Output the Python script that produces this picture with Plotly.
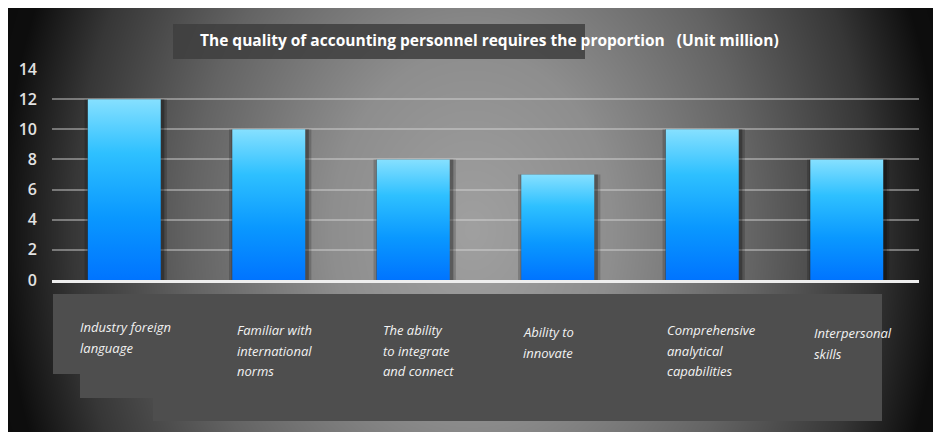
import base64, struct, zlib
import numpy as np
import plotly.graph_objects as go

# ---------------- data ----------------
CATEGORIES = [
    "Industry foreign<br>language",
    "Familiar with<br>international<br>norms",
    "The ability<br>to integrate<br>and connect",
    "Ability to<br>innovate",
    "Comprehensive<br>analytical<br>capabilities",
    "Interpersonal<br>skills",
]
VALUES = [12, 10, 8, 7, 10, 8]
Y_TICKS = [0, 2, 4, 6, 8, 10, 12, 14]
TITLE = "The quality of accounting personnel requires the proportion\u00a0\u00a0\u00a0(Unit million)"

# ---------------- layout constants (screen pixels; page has an 8px body margin) ----------------
W, H = 941, 432
OFF = 8
PL, PR, PT, PB = 52, 919, 69, 280          # plot area on screen
PW, PH = PR - PL, PB - PT
BAR_HALF = 0.2525
LABEL_DX = [-46, -34, -32, -37, -37, -35]
LABEL_Y0 = [327, 330, 330, 332, 330, 333]
LINE_PITCH = 20.5


def px(x):
    return (x - PL) / PW


def py(y):
    return (PB - y) / PH


def png_uri(arr):
    h, w, _ = arr.shape
    raw = b"".join(b"\x00" + arr[r].tobytes() for r in range(h))

    def chunk(t, d):
        c = struct.pack(">I", len(d)) + t + d
        return c + struct.pack(">I", zlib.crc32(t + d) & 0xFFFFFFFF)

    png = (b"\x89PNG\r\n\x1a\n"
           + chunk(b"IHDR", struct.pack(">IIBBBBB", w, h, 8, 2, 0, 0, 0))
           + chunk(b"IDAT", zlib.compress(raw, 9))
           + chunk(b"IEND", b""))
    return "data:image/png;base64," + base64.b64encode(png).decode()


# background: radial grey glow (decoration only), in screen coordinates
xs = np.arange(W) + OFF
ys = np.arange(H) + OFF
X, Y = np.meshgrid(xs, ys)
d = np.sqrt(((X - 472) / 470.0) ** 2 + ((Y - 230) / 600.0) ** 2)
g = np.interp(d, [0, 0.3, 0.6, 0.85, 1.0, 1.2], [160, 142, 100, 55, 14, 8])
img = np.clip(np.stack([g, g, g], axis=-1), 0, 255).astype(np.uint8)
BG_URI = png_uri(img)

fig = go.Figure()

# soft shadow around bars (slightly heavier on the right)
fig.add_trace(go.Bar(
    x=list(range(len(VALUES))), y=VALUES, width=0.57, offset=-0.275,
    marker=dict(color="rgba(0,0,0,0.18)", line=dict(width=0)),
    hoverinfo="skip", showlegend=False,
))
fig.add_trace(go.Bar(
    x=list(range(len(VALUES))), y=VALUES, width=0.535, offset=-0.2575,
    marker=dict(color="rgba(0,0,0,0.28)", line=dict(width=0)),
    hoverinfo="skip", showlegend=False,
))

for i, v in enumerate(VALUES):
    fig.add_trace(go.Scatter(
        x=[i - BAR_HALF, i - BAR_HALF, i + BAR_HALF, i + BAR_HALF, i - BAR_HALF],
        y=[0, v, v, 0, 0],
        mode="lines", fill="toself",
        line=dict(width=0, color="rgba(0,0,0,0)"),
        fillgradient=dict(type="vertical",
                          colorscale=[[0, "#0074ff"], [0.35, "#0a98ff"],
                                      [0.7, "#2ec0ff"], [1, "#86e0ff"]]),
        hoverinfo="skip", showlegend=False,
    ))

shapes = []
shapes.append(dict(type="rect", xref="paper", yref="paper",
                   x0=px(173), x1=px(585), y0=py(59), y1=py(24),
                   fillcolor="rgba(62,62,62,0.85)", line=dict(width=0), layer="below"))
BOX = "#4e4e4e"
for (x0, x1, y0, y1) in [(53, 882, 294, 374), (80, 882, 294, 398), (153, 882, 294, 421)]:
    shapes.append(dict(type="rect", xref="paper", yref="paper",
                       x0=px(x0), x1=px(x1), y0=py(y1), y1=py(y0),
                       fillcolor=BOX, line=dict(width=0), layer="below"))

annotations = []
for i, lab in enumerate(CATEGORIES):
    for k, line in enumerate(lab.split("<br>")):
        annotations.append(dict(
            x=i, xref="x", y=0, yref="paper",
            xanchor="left", yanchor="middle",
            xshift=LABEL_DX[i], yshift=-(LABEL_Y0[i] - PB) - k * LINE_PITCH,
            text="<i>" + line + "</i>", showarrow=False, align="left",
            font=dict(family="Open Sans", size=13, color="#f2f2f2", weight=500),
        ))

fig.update_layout(
    width=W, height=H,
    margin=dict(l=PL - OFF, r=W - (PR - OFF), t=PT - OFF, b=H - (PB - OFF), pad=0),
    paper_bgcolor="#111111", plot_bgcolor="rgba(0,0,0,0)",
    barmode="overlay", showlegend=False,
    title=dict(text="<b>" + TITLE + "</b>", xref="container", yref="container",
               x=(200 - OFF) / W, xanchor="left", y=1 - (41 - OFF) / H, yanchor="middle",
               font=dict(family="Open Sans", size=15.5, color="white")),
    xaxis=dict(range=[-0.5, len(VALUES) - 0.5], showgrid=False, zeroline=False,
               showticklabels=False, ticks="", showline=True,
               linecolor="#eeeeee", linewidth=3, fixedrange=True),
    yaxis=dict(range=[0, 14], tickvals=Y_TICKS, showgrid=True,
               gridcolor="rgba(215,215,215,0.45)", gridwidth=1.5,
               zeroline=False, showline=False, ticks="", ticklabelstandoff=14,
               tickfont=dict(family="Open Sans", size=16, color="#e2e2e2", weight=600),
               fixedrange=True),
    images=[dict(source=BG_URI, xref="paper", yref="paper",
                 x=px(OFF), y=py(OFF), sizex=W / PW, sizey=H / PH,
                 xanchor="left", yanchor="top", sizing="stretch", layer="below")],
    shapes=shapes, annotations=annotations,
)

fig.write_html("out.html")
